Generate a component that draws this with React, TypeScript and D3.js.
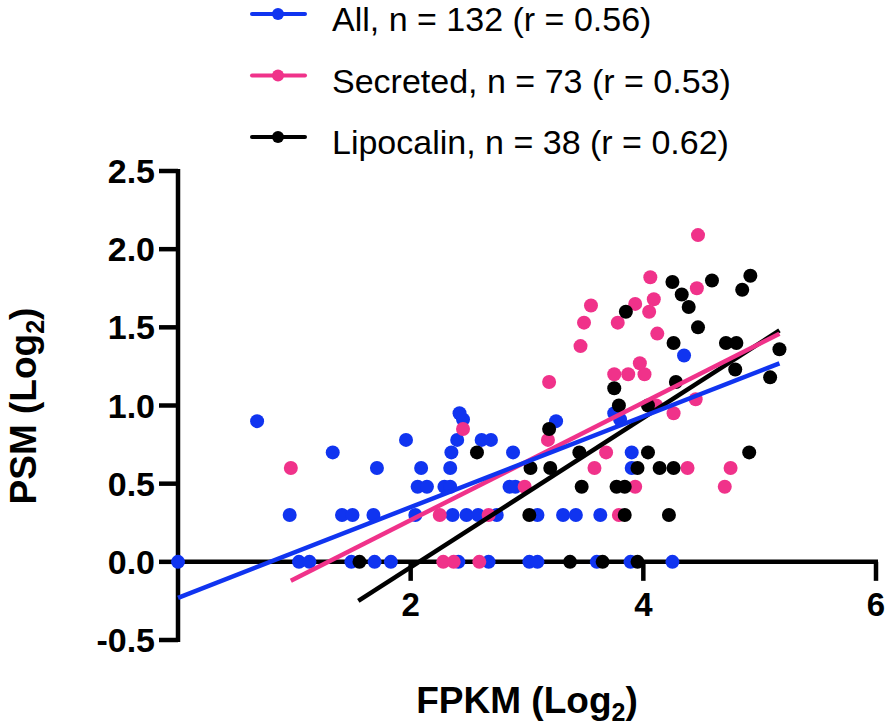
import * as d3 from "d3";

// visible points: [FPKM log2, PSM log2]
const allPoints: [number, number][] = [
  [0, 0], [1.04, 0], [1.13, 0], [1.49, 0], [1.69, 0], [1.83, 0], [2.41, 0], [2.67, 0],
  [3.02, 0], [3.09, 0], [3.6, 0], [3.89, 0], [4.25, 0],
  [0.96, 0.3], [1.41, 0.3], [1.5, 0.3], [1.68, 0.3], [2.04, 0.3], [2.36, 0.3], [2.48, 0.3],
  [2.58, 0.3], [2.74, 0.3], [3.09, 0.3], [3.31, 0.3], [3.42, 0.3], [3.63, 0.3],
  [2.06, 0.48], [2.14, 0.48], [2.29, 0.48], [2.34, 0.48], [2.85, 0.48], [2.9, 0.48],
  [1.71, 0.6], [2.09, 0.6], [2.34, 0.6], [3.9, 0.6],
  [1.33, 0.7], [2.35, 0.7], [2.88, 0.7], [3.9, 0.7],
  [1.96, 0.78], [2.4, 0.78], [2.61, 0.78], [2.69, 0.78],
  [0.68, 0.9], [2.45, 0.91], [3.25, 0.9], [3.8, 0.91],
  [2.42, 0.95], [3.75, 0.95], [4.35, 1.32],
];

const secretedPoints: [number, number][] = [
  [2.28, 0], [2.37, 0], [2.59, 0],
  [2.25, 0.3], [2.67, 0.3], [3.79, 0.3],
  [2.98, 0.48], [3.93, 0.48], [4.7, 0.48],
  [0.97, 0.6], [3.58, 0.6], [4.38, 0.6], [4.75, 0.6],
  [3.68, 0.7], [3.18, 0.78], [2.45, 0.85], [4.26, 0.95], [4.11, 1.0], [4.45, 1.04],
  [3.19, 1.15], [3.75, 1.2], [3.87, 1.2], [4.01, 1.2], [3.97, 1.27], [3.46, 1.38],
  [4.12, 1.46], [3.49, 1.53], [3.78, 1.53], [4.05, 1.6], [3.55, 1.64], [3.93, 1.65],
  [4.09, 1.68], [4.46, 1.75], [4.06, 1.82], [4.47, 2.09],
];

const lipocalinPoints: [number, number][] = [
  [1.56, 0], [3.37, 0], [3.65, 0], [3.95, 0],
  [3.02, 0.3], [3.84, 0.3], [4.22, 0.3],
  [3.47, 0.48], [3.77, 0.48], [3.84, 0.48],
  [3.03, 0.6], [3.2, 0.6], [3.95, 0.6], [4.14, 0.6], [4.26, 0.6],
  [2.57, 0.7], [3.45, 0.7], [4.04, 0.7], [4.91, 0.7],
  [3.19, 0.85], [3.79, 1.0], [4.04, 1.0], [3.75, 1.11], [4.28, 1.15], [5.09, 1.18],
  [4.79, 1.23], [5.17, 1.36], [4.26, 1.4], [4.71, 1.4], [4.8, 1.4], [4.47, 1.5],
  [3.85, 1.6], [4.39, 1.63], [4.33, 1.71], [4.85, 1.74], [4.25, 1.79], [4.59, 1.8],
  [4.92, 1.83],
];

const seriesLabels = [
  "All, n = 132 (r = 0.56)",
  "Secreted, n = 73 (r = 0.53)",
  "Lipocalin, n = 38 (r = 0.62)",
];
const seriesColors = ["#1034f0", "#f0328a", "#000000"];

// linear fits: slope, intercept, x range
const fitSlopes = [0.29, 0.376, 0.478];
const fitIntercepts = [-0.23, -0.485, -0.991];
const fitStart = [0, 0.97, 1.55];
const fitEnd = [5.17, 5.17, 5.17];

const xTicks = [2, 4, 6];
const yTicks = [-0.5, 0, 0.5, 1, 1.5, 2, 2.5];

const font = "'Liberation Sans', Arial, sans-serif";

export default function App() {
  const x = d3.scaleLinear().domain([0, 6]).range([178, 876]);
  const y = d3.scaleLinear().domain([-0.5, 2.5]).range([640, 171]);
  const line = d3
    .line<number>()
    .x((d) => x(d))
    .y((d) => y(d));

  const groups = [allPoints, secretedPoints, lipocalinPoints];

  return (
    <div style={{ position: "fixed", left: 0, top: 0, background: "#fff" }}>
      <svg width={886} height={726} style={{ display: "block" }} fontFamily={font}>
        {/* y axis */}
        <line x1={x(0)} x2={x(0)} y1={y(-0.5) + 2} y2={y(2.5) - 2} stroke="#000" strokeWidth={4.5} />
        {yTicks.map((t) => (
          <g key={t}>
            <line x1={x(0) - 19} x2={x(0)} y1={y(t)} y2={y(t)} stroke="#000" strokeWidth={4.5} />
            <text x={155} y={y(t) + 12} textAnchor="end" fontSize={34} fontWeight="bold">
              {t.toFixed(1)}
            </text>
          </g>
        ))}
        {/* x axis at y = 0 */}
        <line x1={x(0)} x2={x(6) + 2} y1={y(0)} y2={y(0)} stroke="#000" strokeWidth={4.5} />
        {xTicks.map((t) => (
          <g key={t}>
            <line x1={x(t)} x2={x(t)} y1={y(0)} y2={y(0) + 19} stroke="#000" strokeWidth={4.5} />
            <text x={x(t)} y={616} textAnchor="middle" fontSize={33} fontWeight="bold">
              {t}
            </text>
          </g>
        ))}

        {groups.map((pts, i) => (
          <g key={i}>
            {pts.map((p, j) => (
              <circle key={j} cx={x(p[0])} cy={y(p[1])} r={7} fill={seriesColors[i]} />
            ))}
          </g>
        ))}

        {[2, 1, 0].map((i) => (
          <path
            key={i}
            d={
              line.y((d) => y(fitSlopes[i] * d + fitIntercepts[i]))([fitStart[i], fitEnd[i]]) ?? ""
            }
            stroke={seriesColors[i]}
            strokeWidth={4.5}
            fill="none"
          />
        ))}

        {/* axis titles */}
        <text x={527} y={713} textAnchor="middle" fontSize={37} fontWeight="bold">
          FPKM (Log
          <tspan fontSize={25} dy={8}>2</tspan>
          <tspan dy={-8}>)</tspan>
        </text>
        <text
          transform={`translate(36, 406) rotate(-90)`}
          textAnchor="middle"
          fontSize={37}
          fontWeight="bold"
        >
          PSM (Log
          <tspan fontSize={25} dy={8}>2</tspan>
          <tspan dy={-8}>)</tspan>
        </text>

        {/* legend */}
        {seriesLabels.map((label, i) => {
          const ly = 14 + i * 61.5;
          return (
            <g key={label}>
              <line x1={252} x2={305} y1={ly} y2={ly} stroke={seriesColors[i]} strokeWidth={4} strokeLinecap="round" />
              <circle cx={278} cy={ly} r={6} fill={seriesColors[i]} />
              <text x={332} y={ly + 17} fontSize={34}>
                {label}
              </text>
            </g>
          );
        })}
      </svg>
    </div>
  );
}
